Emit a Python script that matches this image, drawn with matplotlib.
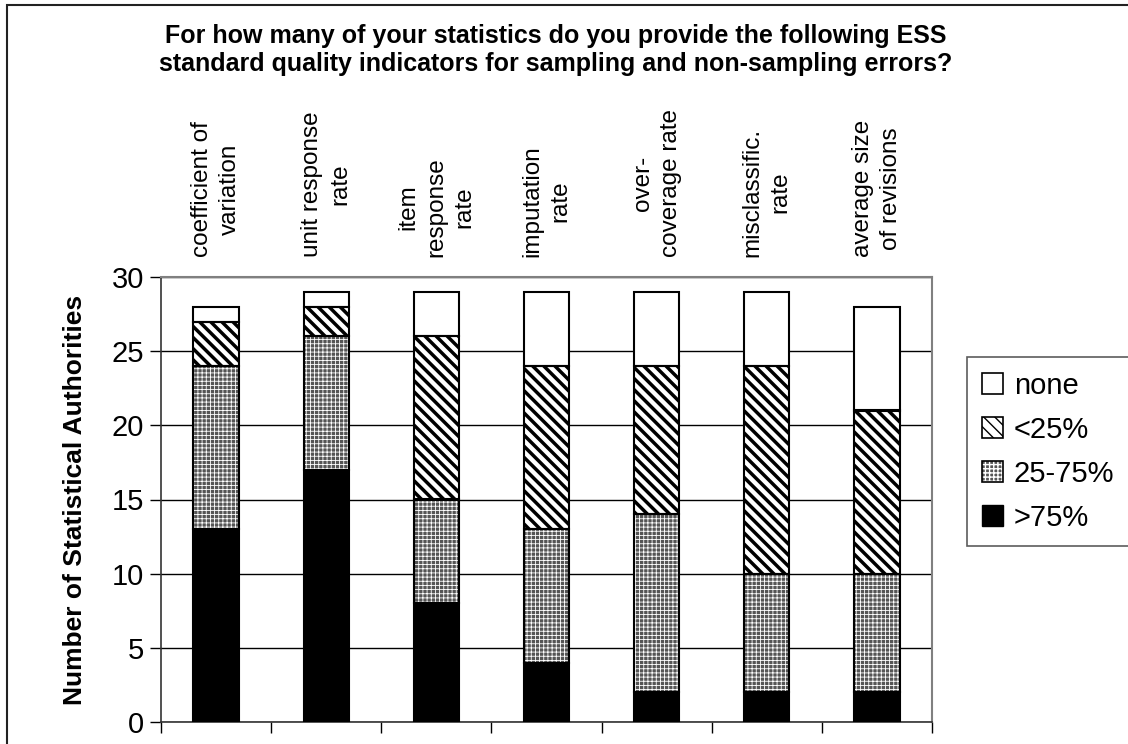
import matplotlib
matplotlib.use("Agg")
import matplotlib.pyplot as plt
import numpy as np
from matplotlib.patches import Patch, Rectangle
from matplotlib.legend_handler import HandlerTuple

plt.rcParams['font.family'] = ['Liberation Sans', 'DejaVu Sans']

# Indicator categories and counts of statistical authorities per answer
indicators = ["coefficient of\nvariation", "unit response\nrate", "item\nresponse\nrate",
              "imputation\nrate", "over-\ncoverage rate", "misclassific.\nrate",
              "average size\nof revisions"]
over75 = [13, 17, 8, 4, 2, 2, 2]
mid25_75 = [11, 9, 7, 9, 12, 8, 8]
under25 = [3, 2, 11, 11, 10, 14, 11]
none = [1, 1, 3, 5, 5, 5, 7]

fig = plt.figure(figsize=(11.28, 7.44), dpi=100)
ax = fig.add_axes([161 / 1128, 22 / 744, 771 / 1128, 445 / 744])

x = np.arange(len(indicators))
width = 0.41

b1 = np.array(over75)
b2 = b1 + np.array(mid25_75)
b3 = b2 + np.array(under25)

gray = '#555555'
stripe_hatch = '\\\\\\'
dot_hatch = '++++'

# >75%: solid black
ax.bar(x, over75, width, color='black', edgecolor='black', linewidth=1.5, zorder=3)

# 25-75%: dark gray with a fine white cross pattern
with plt.rc_context({'hatch.color': 'white', 'hatch.linewidth': 0.6}):
    ax.bar(x, mid25_75, width, bottom=b1, facecolor=gray, hatch=dot_hatch,
           linewidth=0, zorder=3)
    p_mid_fill = Patch(facecolor=gray, hatch=dot_hatch, linewidth=0)
ax.bar(x, mid25_75, width, bottom=b1, fill=False, edgecolor='black', linewidth=1.5, zorder=4)

# <25%: black diagonal stripes on white
with plt.rc_context({'hatch.color': 'black', 'hatch.linewidth': 2.5}):
    ax.bar(x, under25, width, bottom=b2, facecolor='white', hatch=stripe_hatch,
           linewidth=0, zorder=3)
    p_u25_fill = Patch(facecolor='white', hatch=stripe_hatch, linewidth=0)
ax.bar(x, under25, width, bottom=b2, fill=False, edgecolor='black', linewidth=1.5, zorder=4)

# none: white
ax.bar(x, none, width, bottom=b3, facecolor='white', edgecolor='black', linewidth=1.5, zorder=3)

ax.set_xlim(-0.5, len(indicators) - 0.5)
ax.set_ylim(0, 30)
ax.set_yticks(np.arange(0, 31, 5))
ax.set_xticks(np.arange(-0.5, len(indicators), 1))
ax.set_xticklabels([])
ax.tick_params(axis='y', direction='out', length=8, width=1, labelsize=21, pad=4)
ax.tick_params(axis='x', direction='out', length=8, width=1)
ax.yaxis.grid(True, color='black', linewidth=1)
ax.set_axisbelow(True)

for side in ['top', 'right']:
    ax.spines[side].set_color('#808080')
    ax.spines[side].set_linewidth(1.5)
for side in ['left', 'bottom']:
    ax.spines[side].set_color('#333333')
    ax.spines[side].set_linewidth(1.2)

ax.set_ylabel("Number of Statistical Authorities", fontsize=19, fontweight='bold', labelpad=18)

# Category names above each bar
for xi, name in zip(x, indicators):
    ax.text(xi, 30.0 + 20 / 14.8, name, rotation=90, ha='center', va='bottom',
            multialignment='center', fontsize=17.5, linespacing=1.35)

fig.text(556 / 1128, 1 - 50 / 744,
         "For how many of your statistics do you provide the following ESS\n"
         "standard quality indicators for sampling and non-sampling errors?",
         ha='center', va='center', fontsize=18, fontweight='bold', linespacing=1.2)

# Legend with layered patches
p_none = Patch(facecolor='white', edgecolor='black', linewidth=1.2)
p_outline = Patch(fill=False, edgecolor='black', linewidth=1.2)
p_over = Patch(facecolor='black', edgecolor='black')

leg = fig.legend([p_none, (p_u25_fill, p_outline), (p_mid_fill, p_outline), p_over],
                 ["none", "<25%", "25-75%", ">75%"],
                 handler_map={tuple: HandlerTuple(ndivide=1, pad=0)},
                 loc='upper left', bbox_to_anchor=(967 / 1128, 1 - 357 / 744),
                 fontsize=21, frameon=True, fancybox=False, handlelength=0.75,
                 handleheight=0.75, handletextpad=0.35, labelspacing=0.55,
                 borderpad=0.5, borderaxespad=0)
leg.get_frame().set_edgecolor('#333333')
leg.get_frame().set_linewidth(1.2)

# Outer chart border
fig.patches.append(Rectangle((7 / 1128, -0.1), 1.2, 1.1 - 5.5 / 744,
                             transform=fig.transFigure, fill=False,
                             edgecolor='#222222', linewidth=1.5))

fig.savefig("out.png", dpi=100)
